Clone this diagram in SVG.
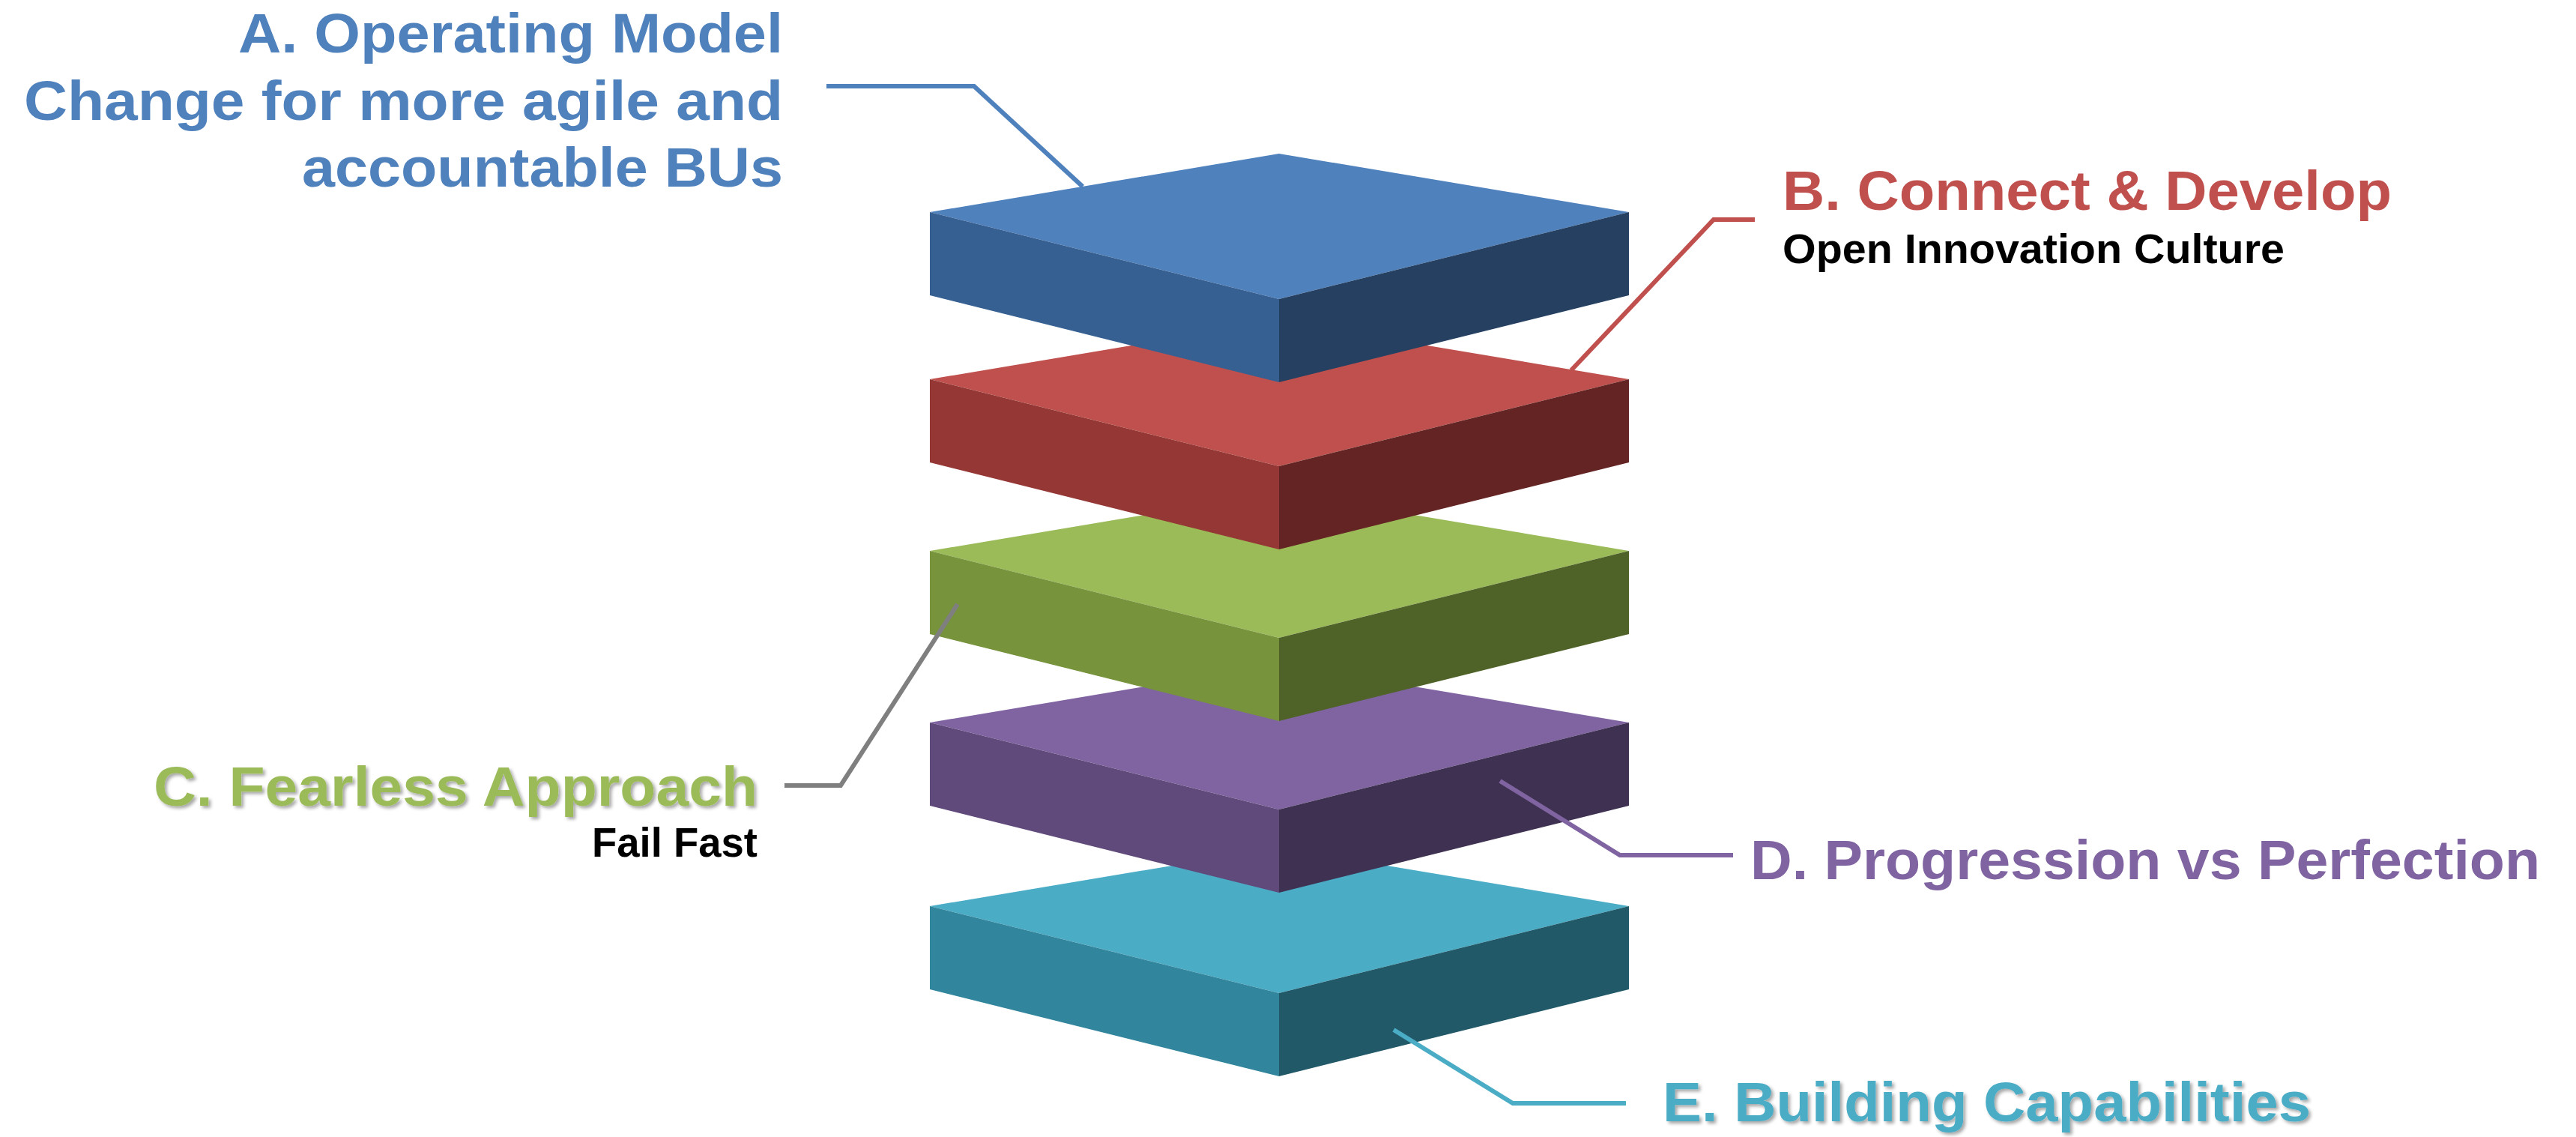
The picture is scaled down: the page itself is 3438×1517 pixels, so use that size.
<svg xmlns="http://www.w3.org/2000/svg" xmlns:xlink="http://www.w3.org/1999/xlink" width="3438" height="1517" viewBox="0 0 3438 1517">
<defs>
<style>
.h{font-family:"Liberation Sans","Open Sans",Arial,sans-serif;font-weight:700;font-size:75px}
.s{font-family:"Liberation Sans","Open Sans",Arial,sans-serif;font-weight:700;font-size:55px;fill:#000}
.ln{fill:none;stroke-width:6;stroke-linejoin:miter}
</style>
<filter id="sh" x="-5%" y="-20%" width="110%" height="150%">
<feDropShadow dx="3" dy="3" stdDeviation="2" flood-color="#000" flood-opacity="0.35"/>
</filter>
<polygon id="tp" points="1707,-78 2174,0 1707,116 1241,0"/>
<polygon id="lf" points="1241,0 1707,116 1707,227 1241,111"/>
<polygon id="rf" points="2174,0 1707,116 1707,227 2174,111"/>
</defs>
<rect width="3438" height="1517" fill="#fff"/>
<g id="box-e" transform="translate(0,1209)">
<use xlink:href="#tp" fill="#4BACC6"/><use xlink:href="#lf" fill="#31859C"/><use xlink:href="#rf" fill="#215968"/>
</g>
<g id="box-d" transform="translate(0,964)">
<use xlink:href="#tp" fill="#8064A2"/><use xlink:href="#lf" fill="#604A7B"/><use xlink:href="#rf" fill="#3F3151"/>
</g>
<g id="box-c" transform="translate(0,735)">
<use xlink:href="#tp" fill="#9BBB59"/><use xlink:href="#lf" fill="#77933C"/><use xlink:href="#rf" fill="#4F6228"/>
</g>
<g id="box-b" transform="translate(0,506)">
<use xlink:href="#tp" fill="#C0504D"/><use xlink:href="#lf" fill="#953735"/><use xlink:href="#rf" fill="#632423"/>
</g>
<g id="box-a" transform="translate(0,283)">
<use xlink:href="#tp" fill="#4F81BD"/><use xlink:href="#lf" fill="#376092"/><use xlink:href="#rf" fill="#254061"/>
</g>
<g id="connectors">
<polyline class="ln" stroke="#4F81BD" points="1103,115 1300,115 1445,249"/>
<polyline class="ln" stroke="#C0504D" points="2342,293 2287,293 2097,494"/>
<polyline class="ln" stroke="#7F7F7F" points="1278,806 1122,1048 1047,1048"/>
<polyline class="ln" stroke="#8064A2" points="2002,1042 2162,1141 2313,1141"/>
<polyline class="ln" stroke="#4BACC6" points="1860,1374 2019,1472 2170,1472"/>
</g>
<g id="label-a" class="h" fill="#4F81BD" text-anchor="end">
<text x="1045" y="70" textLength="727" lengthAdjust="spacingAndGlyphs">A. Operating Model</text>
<text x="1045" y="160" textLength="1013" lengthAdjust="spacingAndGlyphs">Change for more agile and</text>
<text x="1045" y="249" textLength="642" lengthAdjust="spacingAndGlyphs">accountable BUs</text>
</g>
<g id="label-b">
<text class="h" fill="#C0504D" x="2379" y="280" textLength="813" lengthAdjust="spacingAndGlyphs">B. Connect &amp; Develop</text>
<text class="s" x="2379" y="351" textLength="670" lengthAdjust="spacingAndGlyphs">Open Innovation Culture</text>
</g>
<g id="label-c" text-anchor="end">
<text class="h" fill="#9BBB59" filter="url(#sh)" x="1011" y="1075" textLength="806" lengthAdjust="spacingAndGlyphs">C. Fearless Approach</text>
<text class="s" x="1011" y="1143" textLength="221" lengthAdjust="spacingAndGlyphs">Fail Fast</text>
</g>
<g id="label-d">
<text class="h" fill="#8064A2" x="2336" y="1173" textLength="1054" lengthAdjust="spacingAndGlyphs">D. Progression vs Perfection</text>
</g>
<g id="label-e">
<text class="h" fill="#4BACC6" filter="url(#sh)" x="2219" y="1496" textLength="865" lengthAdjust="spacingAndGlyphs">E. Building Capabilities</text>
</g>
</svg>
